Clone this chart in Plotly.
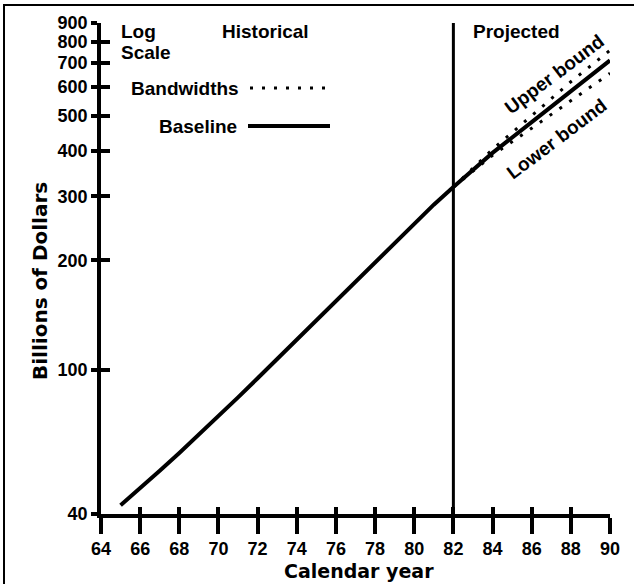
import math
import plotly.graph_objects as go

# ---- data ----
years_hist = [65, 66, 67, 68, 69, 70, 71, 72, 73, 74, 75, 76, 77, 78, 79, 80, 81, 82]
baseline_hist = [42.3, 47.1, 52.6, 58.9, 66.1, 74.3, 83.8, 94.6, 106.9, 120.8, 136.8, 154.9,
                 175.4, 198.6, 224.4, 252.9, 284.4, 318]
years_proj = [82, 84, 86, 88, 90]
baseline_proj = [318, 395, 480, 585, 710]
upper_bound = [318, 404, 500, 620, 757]
lower_bound = [318, 389, 462, 550, 654]
projection_start = 82
x_ticks = list(range(64, 91, 2))
y_ticks = [40, 100, 200, 300, 400, 500, 600, 700, 800, 900]
x_range = [64, 90]
y_range = [40, 900]

W, H = 634, 584
L, R, T, B = 101, 24, 23, 70
PW, PH = W - L - R, H - T - B


def px(x):
    return (x - L) / PW


def py(y):
    return (H - B - y) / PH


FONT = "Liberation Sans"
TICK = dict(family=FONT, size=18, color="black", weight="bold")
TXT = dict(family=FONT, size=19, color="black", weight="bold")
BIG = dict(family="DejaVu Sans", size=20, color="black", weight="bold")

fig = go.Figure()
line_w = 4
dot = "3px,9px"

fig.add_trace(go.Scatter(x=years_hist, y=baseline_hist, mode="lines",
                         line=dict(color="black", width=line_w), showlegend=False))
fig.add_trace(go.Scatter(x=years_proj, y=upper_bound, mode="lines",
                         line=dict(color="black", width=3, dash=dot), showlegend=False))
fig.add_trace(go.Scatter(x=years_proj, y=lower_bound, mode="lines",
                         line=dict(color="black", width=3, dash=dot), showlegend=False))
fig.add_trace(go.Scatter(x=years_proj, y=baseline_proj, mode="lines",
                         line=dict(color="black", width=line_w), showlegend=False))
# dummy trace for overlay axes (crossing ticks)
fig.add_trace(go.Scatter(x=[], y=[], xaxis="x2", yaxis="y2", showlegend=False))

fig.add_vline(x=projection_start, line=dict(color="black", width=3))

logr = [math.log10(y_range[0]), math.log10(y_range[1])]

fig.update_layout(
    width=W, height=H,
    margin=dict(l=L, r=R, t=T, b=B),
    paper_bgcolor="white", plot_bgcolor="white",
    xaxis=dict(range=x_range, tickvals=x_ticks, ticktext=[str(v) for v in x_ticks],
               showgrid=False, zeroline=False, showline=True, linewidth=3.5, linecolor="black",
               ticks="outside", ticklen=16, tickwidth=3.5, tickcolor="black",
               tickfont=TICK),
    yaxis=dict(type="log", range=logr, tickvals=y_ticks, ticktext=[str(v) for v in y_ticks],
               showgrid=False, zeroline=False, showline=True, linewidth=3.5, linecolor="black",
               ticks="outside", ticklen=6, tickwidth=3.5, tickcolor="black",
               tickfont=TICK),
    xaxis2=dict(overlaying="x", anchor="y", matches="x", range=x_range, tickvals=x_ticks,
                showticklabels=False, showgrid=False, zeroline=False, showline=False,
                ticks="inside", ticklen=7, tickwidth=3.5, tickcolor="black", side="bottom"),
    yaxis2=dict(overlaying="y", anchor="x", type="log", range=logr, tickvals=y_ticks,
                showticklabels=False, showgrid=False, zeroline=False, showline=False,
                ticks="inside", ticklen=9, tickwidth=3.5, tickcolor="black", side="left"),
)

ann = []


def A(text, x, y, xa="center", font=TXT, angle=0):
    ann.append(dict(text=text, x=px(x), y=py(y), xref="paper", yref="paper",
                    xanchor=xa, yanchor="middle", showarrow=False, font=font,
                    textangle=angle))


A("Log", 119, 32, "left")
A("Scale", 119, 53, "left")
A("Historical", 265, 32)
A("Projected", 516, 32)
A("Bandwidths", 241, 88, "right")
A("Baseline", 239, 126, "right")
A("Upper bound", 554, 74, angle=-37)
A("Lower bound", 556, 139, angle=-37)
A("Billions of Dollars", 40, 281, font=BIG, angle=-90)
A("Calendar year", 359, 571, font=dict(BIG, size=19))
fig.update_layout(annotations=ann)

shapes = [
    dict(type="line", xref="paper", yref="paper", x0=px(250), x1=px(330), y0=py(88), y1=py(88),
         line=dict(color="black", width=3, dash=dot)),
    dict(type="line", xref="paper", yref="paper", x0=px(248), x1=px(330), y0=py(126), y1=py(126),
         line=dict(color="black", width=line_w)),
    dict(type="line", xref="paper", yref="paper", x0=px(3), x1=px(634), y0=py(5), y1=py(5),
         line=dict(color="black", width=2)),
    dict(type="line", xref="paper", yref="paper", x0=px(4), x1=px(4), y0=py(5), y1=py(584),
         line=dict(color="black", width=2)),
]
for s in shapes:
    fig.add_shape(**s)

fig.write_html("out.html")
